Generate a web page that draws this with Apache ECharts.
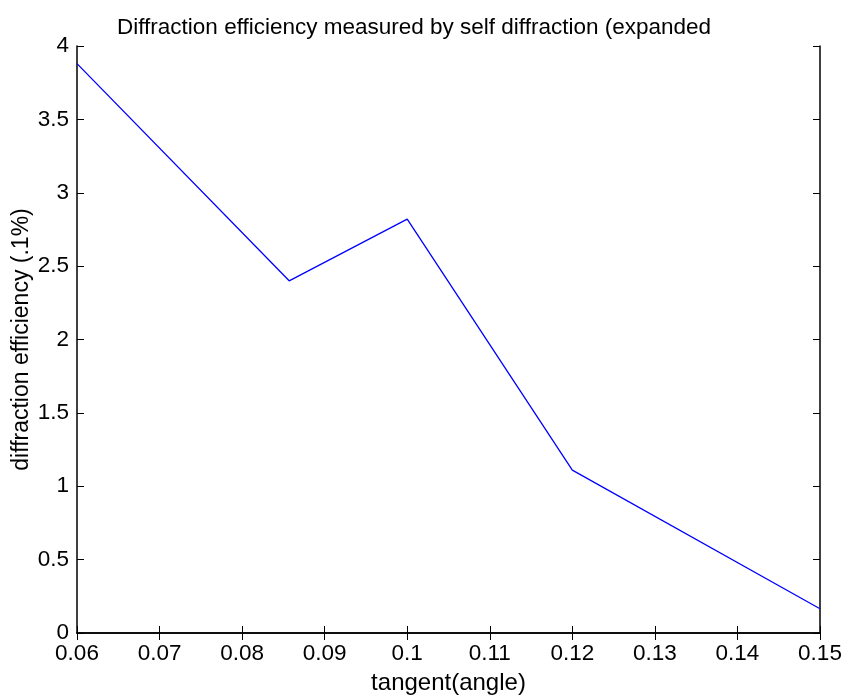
<!DOCTYPE html>
<html>
<head>
    <meta charset="utf-8">
    <script src="https://cdn.jsdelivr.net/npm/echarts@6/dist/echarts.min.js"></script>
    <title>Diffraction efficiency</title>
    <style>
        html, body { margin: 0; padding: 0; background: #fff; }
        #main { width: 847px; height: 695px; }
    </style>
</head>
<body>
    <div id="main"></div>
    <script type="text/javascript">
        var tangentAngle = [0.06, 0.0857, 0.1, 0.12, 0.15];
        var efficiency = [3.88, 2.40, 2.82, 1.11, 0.165];

        var font = 'Liberation Sans, Arial, Helvetica, sans-serif';
        var myChart = echarts.init(document.getElementById('main'));

        var boxAxis = {
            axisLine: { show: true, lineStyle: { color: '#000', width: 1.5 } },
            axisTick: { show: true, inside: true, length: 7, lineStyle: { color: '#000', width: 1 } },
            splitLine: { show: false }
        };

        myChart.setOption({
            animation: false,
            title: {
                text: 'Diffraction efficiency measured by self diffraction (expanded',
                left: 112,
                top: 11,
                textStyle: { fontFamily: font, fontSize: 22.5, fontWeight: 'normal', color: '#000' }
            },
            grid: { left: 77, right: 27, top: 46, bottom: 62, containLabel: false, outerBoundsMode: 'none' },
            xAxis: [
                Object.assign({
                    type: 'value',
                    min: 0.06,
                    max: 0.15,
                    interval: 0.01,
                    name: 'tangent(angle)',
                    nameLocation: 'middle',
                    nameGap: 38,
                    nameTextStyle: { fontFamily: font, fontSize: 24, color: '#000' },
                    axisLabel: {
                        fontFamily: font, fontSize: 22.5, color: '#000', margin: 9,
                        formatter: function (v) { return String(+v.toFixed(2)); }
                    }
                }, boxAxis),
                Object.assign({
                    type: 'value', position: 'top', min: 0.06, max: 0.15, interval: 0.01,
                    axisLabel: { show: false }
                }, boxAxis)
            ],
            yAxis: [
                Object.assign({
                    type: 'value',
                    min: 0,
                    max: 4,
                    interval: 0.5,
                    name: 'diffraction efficiency (.1%)',
                    nameLocation: 'middle',
                    nameGap: 44,
                    nameMoveOverlap: false,
                    nameTextStyle: { fontFamily: font, fontSize: 23, color: '#000' },
                    axisLabel: { fontFamily: font, fontSize: 22.5, color: '#000', margin: 8 }
                }, boxAxis),
                Object.assign({
                    type: 'value', position: 'right', min: 0, max: 4, interval: 0.5,
                    axisLabel: { show: false }
                }, boxAxis)
            ],
            series: [{
                type: 'line',
                data: tangentAngle.map(function (x, i) { return [x, efficiency[i]]; }),
                showSymbol: false,
                lineStyle: { color: '#0000ff', width: 1.3 },
                itemStyle: { color: '#0000ff' }
            }]
        });
    </script>
</body>
</html>
